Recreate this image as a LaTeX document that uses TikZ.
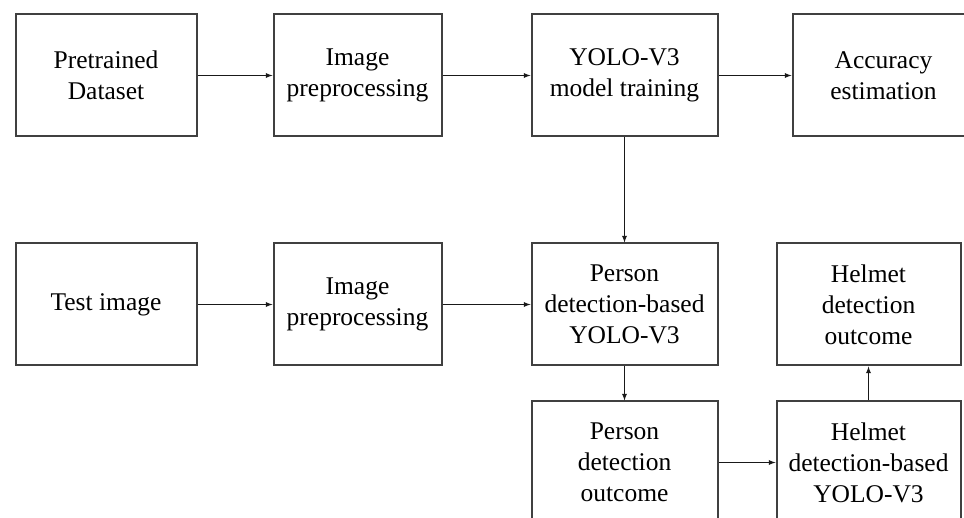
\documentclass[tikz,border=0pt]{standalone}
\usepackage{fontspec}
\setmainfont{Liberation Serif}
\usetikzlibrary{arrows,positioning}

\begin{document}
\begin{tikzpicture}[
      box/.style={draw=black!75,line width=2pt,rectangle,align=center,minimum height=122pt,font=\fontsize{25.5}{31}\selectfont},
      widebox/.style={box,minimum width=186pt},
      narrowbox/.style={box,minimum width=168pt},
      flow/.style={->,line width=1.3pt,black!90},
      >=latex
    ]
    \useasboundingbox (0,0) rectangle (964pt,-518pt);
    \clip (0,0) rectangle (964pt,-518pt);

    % training row
    \node[box,minimum width=181pt] (pre) at (106pt,-75.5pt) {Pretrained\\Dataset};
    \node[narrowbox,right=75pt of pre] (prep1) {Image\\preprocessing};
    \node[widebox,right=88pt of prep1] (yolo) {YOLO-V3\\model training};
    \node[box,minimum width=182pt,right=73pt of yolo] (acc) {Accuracy\\estimation};

    % test row
    \node[box,minimum width=181pt,below=105pt of pre] (test) {Test image};
    \node[narrowbox,below=105pt of prep1] (prep2) {Image\\preprocessing};
    \node[widebox,below=105pt of yolo] (person) {Person\\detection-based\\YOLO-V3};
    \node[box,minimum width=184pt,right=57pt of person] (helmout) {Helmet\\detection\\outcome};

    % outcome row
    \node[widebox,below=34pt of person] (personout) {Person\\detection\\outcome};
    \node[box,minimum width=184pt,below=34pt of helmout] (helmbase) {Helmet\\detection-based\\YOLO-V3};

    % the arrows
    \draw[flow] (pre) -- (prep1);
    \draw[flow] (prep1) -- (yolo);
    \draw[flow] (yolo) -- (acc);
    \draw[flow] (test) -- (prep2);
    \draw[flow] (prep2) -- (person);
    \draw[flow] (yolo) -- (person);
    \draw[flow] (person) -- (personout);
    \draw[flow] (personout) -- (helmbase);
    \draw[flow] (helmbase) -- (helmout);
\end{tikzpicture}
\end{document}
